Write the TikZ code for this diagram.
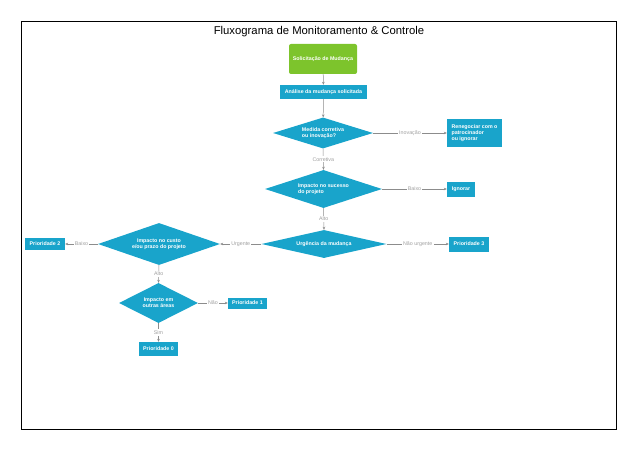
\documentclass[tikz,border=0pt]{standalone}
\usepackage{fontspec}
\setmainfont{Liberation Sans}
\usetikzlibrary{shapes.geometric,arrows.meta}
\definecolor{boxblue}{HTML}{19A4CB}
\definecolor{boxgreen}{HTML}{7DC42C}
\definecolor{linegray}{HTML}{8C8C8C}
\definecolor{lblgray}{HTML}{A0A0A0}
\begin{document}
\begin{tikzpicture}[x=1pt,y=-1pt,
  box/.style={rectangle, fill=boxblue, text=white, font=\fontsize{5.3}{6.3}\selectfont\bfseries, inner sep=0pt, align=left},
  startbox/.style={rectangle, rounded corners=2pt, fill=boxgreen, text=white, font=\fontsize{5.3}{6.3}\selectfont\bfseries, inner sep=0pt},
  decision/.style={diamond, fill=boxblue, text=white, font=\fontsize{5.3}{6.3}\selectfont\bfseries, inner sep=0pt},
  lbl/.style={fill=white, text=lblgray, font=\fontsize{5.3}{6.3}\selectfont, inner sep=1.2pt},
  conn/.style={draw=linegray, line width=0.5pt},
  arr/.style={conn, -{Stealth[length=3pt,width=2.6pt]}}
]
\useasboundingbox (0,0) rectangle (638,452);
\draw[line width=1pt] (21.3,21.3) rectangle (616.5,429.3);
\node (title) at (319,32) {\fontsize{11.3}{13}\selectfont Fluxograma de Monitoramento \& Controle};

\node[startbox, minimum width=68pt, minimum height=30pt] (start) at (323,59) {Solicitação de Mudança};
\node[box, minimum width=87pt, minimum height=14pt] (analise) at (323.5,92) {Análise da mudança solicitada};
\node[decision, minimum width=100pt, minimum height=31pt, shape aspect=3.2, align=left] (d1) at (323,133) {Medida corretiva\\ou inovação?};
\node[box, minimum width=55pt, minimum height=27pt] (reneg) at (474.5,133) {Renegociar com o\\patrocinador\\ou ignorar};
\node[decision, minimum width=117pt, minimum height=38pt, shape aspect=3.1, align=left] (d2) at (323.5,189) {Impacto no sucesso\\do projeto};
\node[box, minimum width=28pt, minimum height=15pt] (ignorar) at (461,189) {Ignorar};
\node[decision, minimum width=125pt, minimum height=28pt, shape aspect=4.4, align=center] (d3) at (324,244) {Urgência da mudança};
\node[box, minimum width=40pt, minimum height=15pt] (p3) at (469,244) {Prioridade 3};
\node[decision, minimum width=122pt, minimum height=42pt, shape aspect=2.9, align=center] (d4) at (159,244) {Impacto no custo\\e/ou prazo do projeto};
\node[box, minimum width=40pt, minimum height=12pt] (p2) at (45,244) {Prioridade 2};
\node[decision, minimum width=79pt, minimum height=40pt, shape aspect=2, align=center] (d5) at (158.5,303) {Impacto em\\outras áreas};
\node[box, minimum width=39pt, minimum height=11pt] (p1) at (247.5,303) {Prioridade 1};
\node[box, minimum width=39pt, minimum height=14pt] (p0) at (158.5,349) {Prioridade 0};

\draw[arr] (start) -- (analise);
\draw[arr] (analise) -- (d1);
\draw[arr] (d1.east) -- node[lbl]{Inovação} (reneg.west);
\draw[arr] (d1.south) -- node[lbl]{Corretiva} (d2.north);
\draw[arr] (d2.east) -- node[lbl]{Baixo} (ignorar.west);
\draw[arr] (d2.south) -- node[lbl]{Alto} (d3.north);
\draw[arr] (d3.east) -- node[lbl]{Não urgente} (p3.west);
\draw[arr] (d3.west) -- node[lbl]{Urgente} (d4.east);
\draw[arr] (d4.west) -- node[lbl]{Baixo} (p2.east);
\draw[arr] (d4.south) -- node[lbl]{Alto} (d5.north);
\draw[arr] (d5.east) -- node[lbl]{Não} (p1.west);
\draw[arr] (d5.south) -- node[lbl]{Sim} (p0.north);
\end{tikzpicture}
\end{document}
